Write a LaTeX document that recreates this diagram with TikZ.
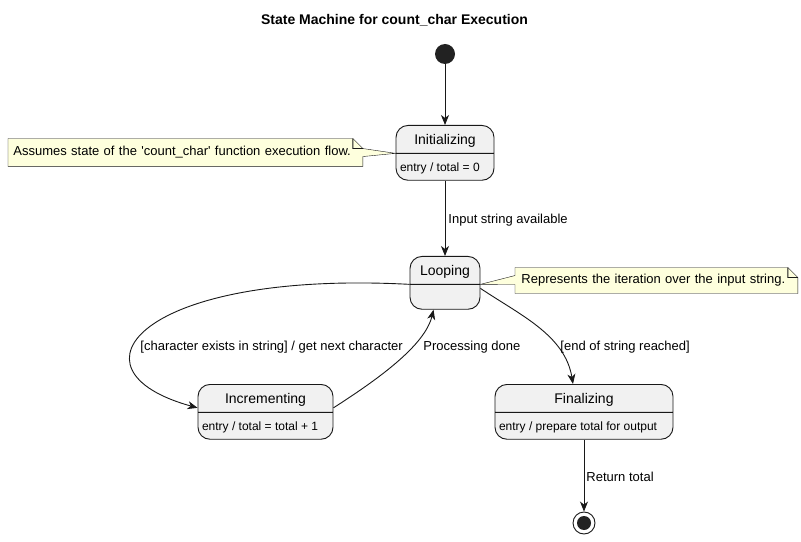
\documentclass[tikz,border=0pt]{standalone}
\usepackage{fontspec}
\setmainfont{Liberation Sans}
\usepackage{tikz}
\usetikzlibrary{shapes.multipart,arrows.meta,backgrounds}
\definecolor{statefill}{HTML}{F1F1F1}
\definecolor{linegray}{HTML}{181818}
\definecolor{notefill}{HTML}{FEFFDD}
\definecolor{dotfill}{HTML}{222222}
\newcommand{\namefont}{\fontsize{14bp}{16bp}\selectfont}
\newcommand{\entryfont}{\fontsize{12bp}{14bp}\selectfont}
\newcommand{\labelfont}{\fontsize{13bp}{15bp}\selectfont}
\tikzstyle{statebox} = [draw=linegray, fill=statefill, rounded corners=12bp,
    rectangle split, rectangle split parts=2,
    rectangle split part align={center,left}, inner xsep=4bp, inner ysep=0pt]
\tikzstyle{notetext} = [inner xsep=5bp, inner ysep=0pt, align=left,
    font=\labelfont]
\tikzstyle{noteline} = [draw=linegray, fill=notefill, line join=miter]
\tikzstyle{edgelabel} = [font=\labelfont, inner sep=0pt, anchor=west]
\tikzstyle{arr} = [draw=linegray, -{Stealth[length=10bp,width=8bp,inset=3bp]}]

\begin{document}
\begin{tikzpicture}[x=1bp, y=-1bp, line width=0.9bp]
                \useasboundingbox (0,0) rectangle (801,542);
                \node[font=\fontsize{14bp}{16bp}\selectfont\bfseries] (title) at (394.5,20) {State Machine for count\_char Execution};
                \node[circle, fill=dotfill, minimum size=20bp, inner sep=0pt] (start) at (445,54) {};
                \node[statebox, minimum width=98bp, anchor=north] (init) at (445,125) {%
                    \namefont\rule[-8bp]{0pt}{27bp}Initializing
                    \nodepart{two}\entryfont\rule[-8bp]{0pt}{26bp}entry / total = 0};
                \node[statebox, minimum width=70bp, anchor=north] (loop) at (445,256) {%
                    \namefont\rule[-8bp]{0pt}{27bp}Looping
                    \nodepart{two}\rule[-8bp]{0pt}{24bp}};
                \node[statebox, minimum width=135bp, anchor=north] (incr) at (265.5,384) {%
                    \namefont\rule[-8bp]{0pt}{27bp}Incrementing
                    \nodepart{two}\entryfont\rule[-8bp]{0pt}{26bp}entry / total = total + 1};
                \node[statebox, minimum width=178bp, anchor=north] (final) at (584,384) {%
                    \namefont\rule[-8bp]{0pt}{27bp}Finalizing
                    \nodepart{two}\entryfont\rule[-8bp]{0pt}{26bp}entry / prepare total for output};
                \node[circle, draw=linegray, fill=white, minimum size=22bp, inner sep=0pt] (stop) at (584,523) {};
                \node[circle, fill=dotfill, minimum size=14bp, inner sep=0pt] at (stop) {};

                \node[notetext, text width=344bp, minimum height=27bp, anchor=west] (assume) at (8,152.5)
                    {Assumes state of the \textquotesingle count\_char\textquotesingle{} function execution flow.};
                \node[notetext, text width=270bp, inner xsep=6bp, minimum height=25bp, anchor=west] (iter) at (515,280.5)
                    {Represents the iteration over the input string.};
                \begin{scope}[on background layer]
                \path[noteline] (assume.north west) -- ([xshift=-10bp]assume.north east)
                    -- ([yshift=-10bp]assume.north east) -- (init.text split west)
                    -- ([yshift=-18bp]assume.north east) -- (assume.south east)
                    -- (assume.south west) -- cycle;
                \path[noteline] (iter.north west) -- ([xshift=-10bp]iter.north east)
                    -- ([yshift=-10bp]iter.north east) -- (iter.south east)
                    -- (iter.south west) -- ([yshift=-17bp]iter.north west)
                    -- (loop.text split east) -- ([yshift=-8bp]iter.north west) -- cycle;
                \end{scope}
                \draw[linegray] ([xshift=-10bp]assume.north east) -- ++(0,10) -- ([yshift=-10bp]assume.north east);
                \draw[linegray] ([xshift=-10bp]iter.north east) -- ++(0,10) -- ([yshift=-10bp]iter.north east);

                \draw[arr] (start) -- (init);
                \draw[arr] (init) -- (loop);
                \draw[arr] (loop.text split west) .. controls (140,270) and (60,370) .. ([yshift=4bp]incr.west);
                \draw[arr] ([yshift=4bp]incr.east) .. controls (380,378) and (425,345) .. ([xshift=24bp]loop.south west);
                \draw[arr] ([yshift=-4bp]loop.text split east) .. controls (520,315) and (565,335) .. ([xshift=-11bp]final.north);
                \draw[arr] (final) -- (stop);

                \node[edgelabel] (lbl1) at (448,220) {Input string available};
                \node[edgelabel] (lbl2) at (140,347) {[character exists in string] / get next character};
                \node[edgelabel] (lbl3) at (423,347) {Processing done};
                \node[edgelabel] (lbl4) at (560,347) {[end of string reached]};
                \node[edgelabel] (lbl5) at (586,477) {Return total};
            \end{tikzpicture}
\end{document}
